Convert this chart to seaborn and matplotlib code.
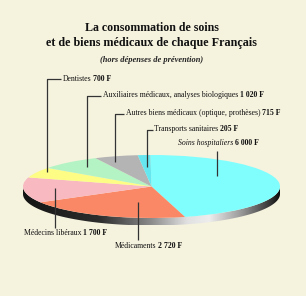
import numpy as np
import matplotlib
matplotlib.use("Agg")
import matplotlib.pyplot as plt
import seaborn as sns
from matplotlib.patches import Polygon

sns.set_style("white")
plt.rcParams['font.family'] = ['Liberation Serif', 'DejaVu Serif']

# ---- data ----
categories = ["Soins hospitaliers", "Médicaments", "Médecins libéraux", "Dentistes",
              "Auxiliaires médicaux, analyses biologiques",
              "Autres biens médicaux (optique, prothèses)", "Transports sanitaires"]
values = [6000, 2720, 1700, 700, 1020, 715, 205]
colors = ["#80fefe", "#fa8866", "#f9b9c1", "#fdfd86", "#b4f3c4", "#b4b4b4", "#66e6ee"]
title_lines = ["La consommation de soins", "et de biens médicaux de chaque Français"]
subtitle = "(hors dépenses de prévention)"

def fmt(v):
    return f"{v:,}".replace(",", " ") + " F"

W, H = 306, 296
bg = "#f5f2de"
fig = plt.figure(figsize=(W / 100, H / 100), dpi=100, facecolor=bg)

# ---- pie (ellipse) ----
cx, cy, a, b = 151.5, 186.5, 128.5, 31.5
thick = 7.5
axp = fig.add_axes([(cx - a) / W, (H - (cy + b + thick)) / H, 2 * a / W, (2 * b + thick) / H])
axp.set_facecolor("none")
axp.pie(values, colors=colors, startangle=90.5, counterclock=False,
        wedgeprops=dict(linewidth=0))
d = thick / b
axp.set_aspect('auto')
axp.set_xlim(-1, 1)
axp.set_ylim(-1 - d, 1)
axp.axis('off')

# side of the 3D pie
t = np.linspace(np.pi, 2 * np.pi, 200)
top = np.column_stack([np.cos(t), np.sin(t)])
bot = np.column_stack([np.cos(t[::-1]), np.sin(t[::-1]) - d])
side = Polygon(np.vstack([top, bot]), closed=True, facecolor="none", edgecolor="none", zorder=0)
axp.add_patch(side)
xs = np.linspace(-1, 1, 400)
stops_x = [-1.0, -0.4, 0.0, 0.28, 0.45, 0.7, 0.93, 1.0]
stops_v = [0.08, 0.18, 0.55, 0.88, 0.93, 0.6, 0.2, 0.05]
g = np.interp(xs, stops_x, stops_v)
img = np.tile(g, (10, 1))
im = axp.imshow(img, extent=[-1, 1, -1 - d, 0], cmap="gray", vmin=0, vmax=1,
                aspect='auto', zorder=0, interpolation='bilinear')
im.set_clip_path(side)

# ---- overlay for texts and leader lines (pixel coords) ----
ax = fig.add_axes([0, 0, 1, 1])
ax.set_facecolor("none")
ax.set_xlim(0, W)
ax.set_ylim(H, 0)
ax.axis('off')

ax.text(152, 28, title_lines[0], ha='center', va='center', fontsize=8.6, fontweight='bold', color="#111")
ax.text(151, 43, title_lines[1], ha='center', va='center', fontsize=8.7, fontweight='bold', color="#111")
ax.text(152, 60, subtitle, ha='center', va='center', fontsize=6.0, fontweight='bold',
        fontstyle='italic', color="#222")

# label positions (pixel) : text anchor, leader line
label_pos = {
    "Dentistes": ((63, 79), [(61, 79), (47, 79), (47, 172)]),
    "Auxiliaires médicaux, analyses biologiques": ((103, 95), [(101, 96), (87, 96), (87, 167)]),
    "Autres biens médicaux (optique, prothèses)": ((126, 113), [(124, 114), (115, 114), (115, 162)]),
    "Transports sanitaires": ((154, 129), [(153, 130), (147, 130), (147, 167)]),
    "Soins hospitaliers": ((178, 143), [(217, 151), (217, 176)]),
    "Médecins libéraux": ((24, 233), [(55, 188), (55, 228)]),
    "Médicaments": ((115, 246), [(138, 202), (138, 240)]),
}

fs = 5.6
for name, val in zip(categories, values):
    (tx, ty), pts = label_pos[name]
    pts = np.array(pts)
    ax.plot(pts[:, 0], pts[:, 1], color="#333333", lw=0.9, solid_capstyle='butt')
    style = 'italic' if name == "Soins hospitaliers" else 'normal'
    t1 = ax.text(tx, ty, name, ha='left', va='center', fontsize=fs, fontstyle=style, color="#111")
    ax.annotate(fmt(val), xy=(1, 0.5), xycoords=t1, xytext=(1.0, 0), textcoords='offset points',
                ha='left', va='center', fontsize=fs, fontweight='bold', color="#111")

fig.savefig("out.png", dpi=100, facecolor=bg)
